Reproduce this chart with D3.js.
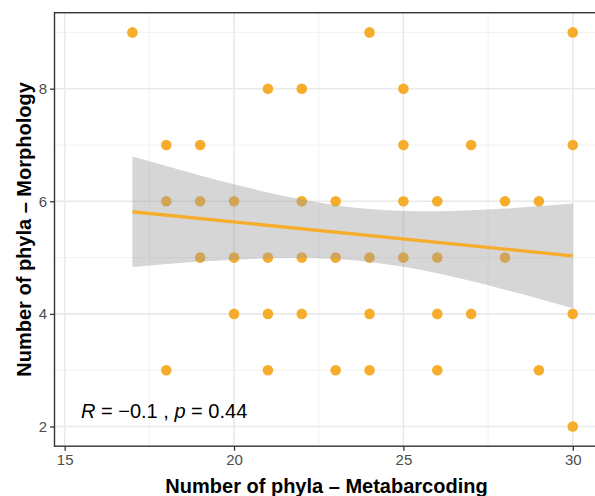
<!DOCTYPE html>
<html>
<head>
<meta charset="utf-8">
<script src="https://cdn.jsdelivr.net/npm/d3@7"></script>
<style>
  html, body { margin: 0; padding: 0; background: #fff; }
  svg { display: block; }
  text { font-family: "Liberation Sans", Arial, Helvetica, sans-serif; }
</style>
</head>
<body>
<svg id="chart" width="595" height="496"></svg>
<script>
// ---- data ----
const pointX = [17, 24, 30,
  21, 22, 25,
  18, 19, 25, 27, 30,
  18, 19, 20, 22, 23, 25, 26, 28, 29,
  19, 20, 21, 22, 23, 24, 25, 26, 28,
  20, 21, 22, 24, 26, 27, 30,
  18, 21, 23, 24, 26, 29,
  30];
const pointY = [9, 9, 9,
  8, 8, 8,
  7, 7, 7, 7, 7,
  6, 6, 6, 6, 6, 6, 6, 6, 6,
  5, 5, 5, 5, 5, 5, 5, 5, 5,
  4, 4, 4, 4, 4, 4, 4,
  3, 3, 3, 3, 3, 3,
  2];
const fitX = [17, 30];
const fitY = [5.815, 5.03];
const bandX     = [17, 18, 19, 20, 21, 22, 23, 24, 25, 26, 27, 28, 29, 30];
const bandUpper = [6.795, 6.625, 6.459, 6.304, 6.158, 6.032, 5.931, 5.862, 5.828, 5.822, 5.839, 5.871, 5.911, 5.960];
const bandLower = [4.835, 4.885, 4.929, 4.964, 4.988, 4.994, 4.975, 4.922, 4.836, 4.720, 4.583, 4.431, 4.269, 4.100];
const xTicks = [15, 20, 25, 30];
const xMinor = [17.5, 22.5, 27.5];
const yTicks = [2, 4, 6, 8];
const yMinor = [3, 5, 7, 9];
const xLabel = "Number of phyla \u2013 Metabarcoding";
const yLabel = "Number of phyla \u2013 Morphology";
const statR = "\u22120.1";
const statP = "0.44";

// ---- layout ----
const svg = d3.select("#chart");
const panel = { left: 54.5, right: 597.5, top: 12.7, bottom: 446.2 };
const x = d3.scaleLinear().domain([14.7, 30.73]).range([panel.left, panel.right]);
const y = d3.scaleLinear().domain([1.65, 9.35]).range([panel.bottom, panel.top]);

const orange = "#F6AD2C";

// grid
const g = svg.append("g");
g.selectAll(".xminor").data(xMinor).join("line")
  .attr("x1", d => x(d)).attr("x2", d => x(d))
  .attr("y1", panel.top).attr("y2", panel.bottom)
  .attr("stroke", "#f1f1f1").attr("stroke-width", 1);
g.selectAll(".yminor").data(yMinor).join("line")
  .attr("y1", d => y(d)).attr("y2", d => y(d))
  .attr("x1", panel.left).attr("x2", panel.right)
  .attr("stroke", "#f1f1f1").attr("stroke-width", 1);
g.selectAll(".xmajor").data(xTicks).join("line")
  .attr("x1", d => x(d)).attr("x2", d => x(d))
  .attr("y1", panel.top).attr("y2", panel.bottom)
  .attr("stroke", "#e9e9e9").attr("stroke-width", 1.6);
g.selectAll(".ymajor").data(yTicks).join("line")
  .attr("y1", d => y(d)).attr("y2", d => y(d))
  .attr("x1", panel.left).attr("x2", panel.right)
  .attr("stroke", "#e9e9e9").attr("stroke-width", 1.6);

// points
const pts = pointX.map((d, i) => ({ x: d, y: pointY[i] }));
svg.append("g").selectAll("circle").data(pts).join("circle")
  .attr("cx", d => x(d.x)).attr("cy", d => y(d.y)).attr("r", 5.3)
  .attr("fill", orange);

// confidence band
const band = bandX.map((d, i) => ({ x: d, lo: bandLower[i], hi: bandUpper[i] }));
svg.append("path").datum(band)
  .attr("d", d3.area().x(d => x(d.x)).y0(d => y(d.lo)).y1(d => y(d.hi)).curve(d3.curveMonotoneX))
  .attr("fill", "#999999").attr("fill-opacity", 0.4);

// fit line
const fit = fitX.map((d, i) => ({ x: d, y: fitY[i] }));
svg.append("path").datum(fit)
  .attr("d", d3.line().x(d => x(d.x)).y(d => y(d.y)))
  .attr("fill", "none").attr("stroke", orange).attr("stroke-width", 3.4);

// panel border
svg.append("rect")
  .attr("x", panel.left).attr("y", panel.top)
  .attr("width", panel.right - panel.left).attr("height", panel.bottom - panel.top)
  .attr("fill", "none").attr("stroke", "#333333").attr("stroke-width", 1.4);

// axes
const xAxis = d3.axisBottom(x).tickValues(xTicks).tickSizeInner(4.5).tickSizeOuter(0).tickPadding(4);
const yAxis = d3.axisLeft(y).tickValues(yTicks).tickSizeInner(4.5).tickSizeOuter(0).tickPadding(3);
const gx = svg.append("g").attr("transform", `translate(0,${panel.bottom})`).call(xAxis);
const gy = svg.append("g").attr("transform", `translate(${panel.left},0)`).call(yAxis);
[gx, gy].forEach(a => {
  a.select(".domain").remove();
  a.selectAll(".tick line").attr("stroke", "#333333").attr("stroke-width", 1.3);
  a.selectAll(".tick text").attr("fill", "#4d4d4d").style("font-size", "15px")
    .style("font-family", '"Liberation Sans", Arial, Helvetica, sans-serif');
});

// axis titles
svg.append("text")
  .attr("x", (panel.left + panel.right) / 2 + 0.5).attr("y", 492.5)
  .attr("text-anchor", "middle").attr("font-weight", "bold").attr("font-size", 20)
  .attr("fill", "#000").text(xLabel);
svg.append("text")
  .attr("transform", `translate(31,${(panel.top + panel.bottom) / 2}) rotate(-90)`)
  .attr("text-anchor", "middle").attr("font-weight", "bold").attr("font-size", 20)
  .attr("fill", "#000").text(yLabel);

// stat annotation
const ann = svg.append("text").attr("x", 81).attr("y", 418.3)
  .attr("font-size", 20).attr("fill", "#000").attr("xml:space", "preserve");
ann.append("tspan").attr("font-style", "italic").text("R");
ann.append("tspan").text(" = " + statR + " , ");
ann.append("tspan").attr("font-style", "italic").text("p");
ann.append("tspan").text(" = " + statP);
</script>
</body>
</html>
